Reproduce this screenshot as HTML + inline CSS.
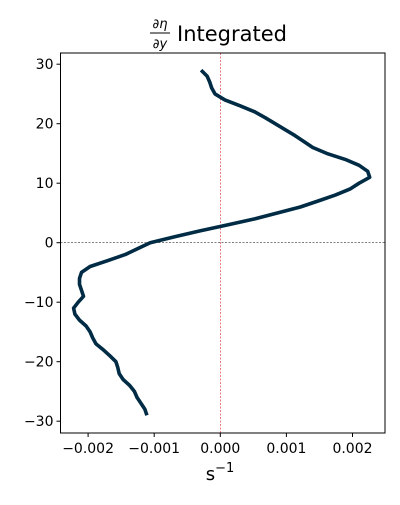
<!DOCTYPE html>
<html><head><meta charset="utf-8"><style>
body{margin:0;background:#fff;}
svg text{font-family:"DejaVu Sans","Liberation Sans",sans-serif;fill:#000;}
</style></head><body>
<svg id="chart" width="400" height="500" xmlns="http://www.w3.org/2000/svg">
<text x="160" y="28" font-size="13" font-style="italic" text-anchor="middle">∂η</text>
<line x1="150" y1="33" x2="170" y2="33" stroke="#000" stroke-width="1"/>
<text x="160" y="48" font-size="13" font-style="italic" text-anchor="middle">∂y</text>
<text x="177" y="41" font-size="21">Integrated</text>
<g id="plot"></g>
<text x="220" y="480" font-size="18" text-anchor="middle">s<tspan dy="-8" font-size="13">−1</tspan></text>
</svg>
<script>
const yLevels=[29,28,27,26,25,24,23,22,21,20,18,16,15,14,13,12,11,10,9,8,7,6,5,4,3,2,1,0,-1,-2,-3,-4,-5,-6,-7,-8,-9,-10,-11,-12,-13,-14,-15,-16,-17,-18,-19,-20,-21,-22,-23,-24,-25,-26,-27,-28,-29];
const xValues=[-0.00029,-0.0002,-0.00016,-0.00013,-0.00008,0.00007,0.0003,0.00052,0.00068,0.00083,0.00113,0.0014,0.00161,0.00189,0.0021,0.00223,0.00226,0.0021,0.00196,0.00174,0.00148,0.00121,0.00087,0.00052,0.00012,-0.0003,-0.00069,-0.00106,-0.00125,-0.00144,-0.0017,-0.00197,-0.0021,-0.00213,-0.00213,-0.0021,-0.00207,-0.00215,-0.00222,-0.0022,-0.00213,-0.00203,-0.00197,-0.00193,-0.00188,-0.00177,-0.00167,-0.00158,-0.00155,-0.00153,-0.00147,-0.00137,-0.0013,-0.00126,-0.0012,-0.00114,-0.00111];
const xTicks=[-0.002,-0.001,0,0.001,0.002];
const xTickLabels=["−0.002","−0.001","0.000","0.001","0.002"];
const yTicks=[30,20,10,0,-10,-20,-30];
const yTickLabels=["30","20","10","0","−10","−20","−30"];
const L=60.5,R=385,T=53,B=433;
const X=v=>220.3+v*66100;
const Y=v=>242.7-v*5.95;
const NS="http://www.w3.org/2000/svg";
const g=document.getElementById('plot');
function mk(t,a){const e=document.createElementNS(NS,t);for(const k in a)e.setAttribute(k,a[k]);g.appendChild(e);return e;}
let e;
e=mk('line',{x1:L,x2:R,y1:Y(0),y2:Y(0),stroke:'#333','stroke-width':0.6,'stroke-dasharray':'2,1.5'});


e=mk('line',{x1:X(0),x2:X(0),y1:T,y2:B,stroke:'#e0202a','stroke-width':0.6,'stroke-dasharray':'2,1.5'});


const pts=yLevels.map((y,i)=>X(xValues[i]).toFixed(1)+','+Y(y).toFixed(1)).join(' ');
e=mk('polyline',{points:pts,fill:'none',stroke:'#002b45','stroke-width':3.6,'stroke-linejoin':'round'});


e=mk('rect',{x:L,y:T,width:R-L,height:B-T,fill:'none',stroke:'#000','stroke-width':1});


xTicks.forEach((v,i)=>{
 e=mk('line',{x1:X(v),x2:X(v),y1:B,y2:B+4,stroke:'#000'});
 
 
 e=mk('text',{x:X(v),y:B+20,'font-size':14,'text-anchor':'middle'});
 e.textContent=xTickLabels[i];
 
 
});
yTicks.forEach((v,i)=>{
 e=mk('line',{x1:L-4,x2:L,y1:Y(v),y2:Y(v),stroke:'#000'});
 
 
 e=mk('text',{x:L-7,y:Y(v)+5,'font-size':14,'text-anchor':'end'});
 e.textContent=yTickLabels[i];
 
 
});
</script>
</body></html>
